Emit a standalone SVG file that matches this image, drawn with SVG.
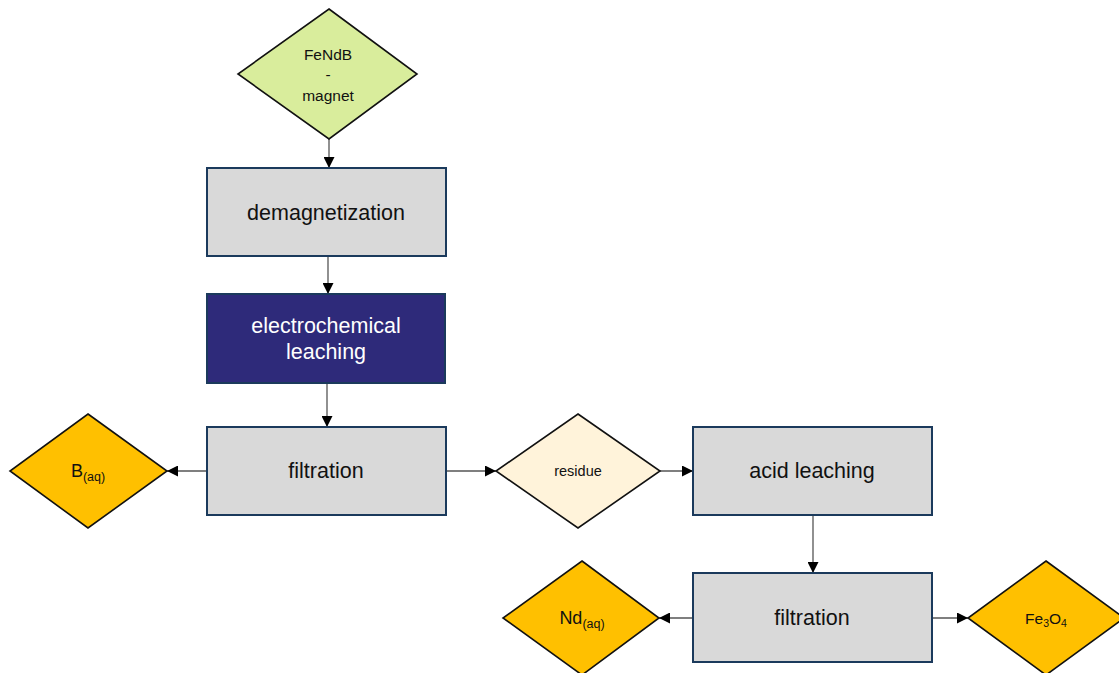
<svg xmlns="http://www.w3.org/2000/svg" width="1119" height="673" viewBox="0 0 1119 673">
<defs>
<marker id="ah" viewBox="0 0 10 10" refX="10" refY="5" markerWidth="12" markerHeight="11" markerUnits="userSpaceOnUse" orient="auto">
<path d="M0,0 L10,5 L0,10 z" fill="#000"/>
</marker>
<style>
.box{fill:#d9d9d9;stroke:#1b3a5c;stroke-width:2}
.dark{fill:#2e2a7a;stroke:#1b3a5c;stroke-width:2}
.dia{stroke:#111;stroke-width:1.6}
.t{font-family:"Liberation Sans",Arial,sans-serif;fill:#111;text-anchor:middle}
.c{stroke:#555;stroke-width:1.3;fill:none;marker-end:url(#ah)}
</style>
</defs>
<rect width="1119" height="673" fill="#fff"/>
<g id="connectors">
<path class="c" d="M329,139 L329,168"/>
<path class="c" d="M328,256 L328,294"/>
<path class="c" d="M327,383 L327,427"/>
<path class="c" d="M207,471 L167,471"/>
<path class="c" d="M446,471 L496,471"/>
<path class="c" d="M660,471 L693,471"/>
<path class="c" d="M813,515 L813,573"/>
<path class="c" d="M693,618 L659,618"/>
<path class="c" d="M932,618 L968,618"/>
</g>
<g id="magnet">
<polygon class="dia" fill="#d9ed9c" points="329,9 417,74 329,139 238,74"/>
<text class="t" x="328" y="60" font-size="15.5">FeNdB</text>
<text class="t" x="328" y="80" font-size="15.5">-</text>
<text class="t" x="328" y="101" font-size="15.5">magnet</text>
</g>
<g id="demagnetization">
<rect class="box" x="207" y="168" width="239" height="88"/>
<text class="t" x="326" y="220" font-size="21.5">demagnetization</text>
</g>
<g id="electrochemical">
<rect class="dark" x="207" y="294" width="238" height="89"/>
<text class="t" x="326" y="333" font-size="21.5" style="fill:#fff">electrochemical</text>
<text class="t" x="326" y="359" font-size="21.5" style="fill:#fff">leaching</text>
</g>
<g id="filtration1">
<rect class="box" x="207" y="427" width="239" height="88"/>
<text class="t" x="326" y="478" font-size="21.5">filtration</text>
</g>
<g id="baq">
<polygon class="dia" fill="#ffc000" points="88,414 167,471 88,528 10,471"/>
<text class="t" x="88" y="477" font-size="18">B<tspan font-size="12.5" dy="4">(aq)</tspan></text>
</g>
<g id="residue">
<polygon class="dia" fill="#fff3da" points="578,414 660,471 578,528 496,471"/>
<text class="t" x="578" y="476" font-size="14.5">residue</text>
</g>
<g id="acid">
<rect class="box" x="693" y="427" width="239" height="88"/>
<text class="t" x="812" y="478" font-size="21.5">acid leaching</text>
</g>
<g id="filtration2">
<rect class="box" x="693" y="573" width="239" height="89"/>
<text class="t" x="812" y="625" font-size="21.5">filtration</text>
</g>
<g id="ndaq">
<polygon class="dia" fill="#ffc000" points="582,561 659,618 582,675 503,618"/>
<text class="t" x="582" y="624" font-size="18">Nd<tspan font-size="12.5" dy="4">(aq)</tspan></text>
</g>
<g id="fe3o4">
<polygon class="dia" fill="#ffc000" points="1046,561 1124,618 1046,675 968,618"/>
<text class="t" x="1046" y="624" font-size="15.5">Fe<tspan font-size="10.5" dy="3">3</tspan><tspan dy="-3">O</tspan><tspan font-size="10.5" dy="3">4</tspan></text>
</g>
</svg>
